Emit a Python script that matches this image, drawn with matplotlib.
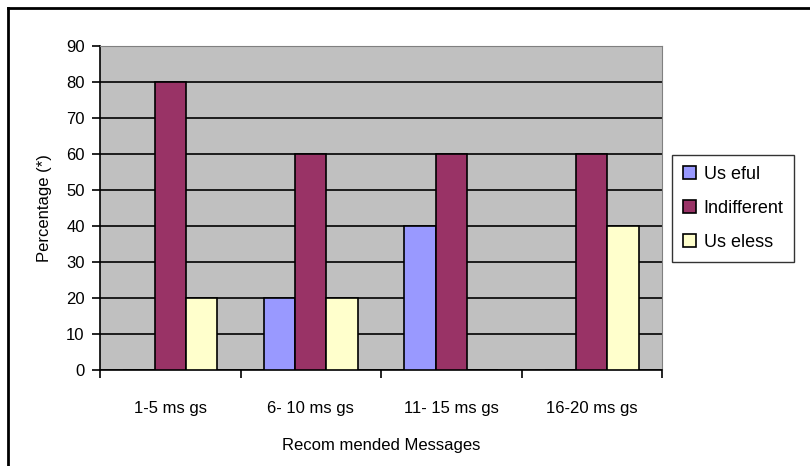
import matplotlib
matplotlib.use('Agg')
import matplotlib.pyplot as plt
import numpy as np
from matplotlib.lines import Line2D

categories = ['1-5 ms gs', '6- 10 ms gs', '11- 15 ms gs', '16-20 ms gs']
series = ['Us eful', 'Indifferent', 'Us eless']
useful = [0, 20, 40, 0]
indifferent = [80, 60, 60, 60]
useless = [20, 20, 0, 40]
colors = ['#9999FF', '#993366', '#FFFFCC']

plt.rcParams['font.family'] = ['Liberation Sans', 'DejaVu Sans']
plt.rcParams['font.size'] = 12

fig = plt.figure(figsize=(8.1, 4.66), dpi=100)
ax = fig.add_axes([100/810, 1-370/466, 562/810, 324/466])
ax.set_facecolor('#C0C0C0')

x = np.arange(len(categories))
w = 1/4.5
for i, (vals, lab, c) in enumerate(zip([useful, indifferent, useless], series, colors)):
    v = np.array(vals, dtype=float)
    ax.bar(x + (i-1)*w, v, w, color=c, edgecolor='black', linewidth=1.2,
           label=lab, zorder=3)

ax.set_xlim(-0.5, len(categories)-0.5)
ax.set_ylim(0, 90)
ax.set_yticks(range(0, 91, 10))
ax.yaxis.grid(True, color='black', linewidth=1.2, zorder=1)
ax.set_axisbelow(True)

ax.set_xticks(x)
ax.set_xticklabels(categories)
ax.set_xticks(np.arange(-0.5, len(categories), 1), minor=True)
ax.tick_params(axis='x', which='major', length=0, pad=22)
ax.tick_params(axis='x', which='minor', length=6, width=1.2, direction='out')
ax.tick_params(axis='y', length=6, width=1.2, direction='out', pad=5)

for s in ['top', 'right']:
    ax.spines[s].set_color('#808080')
for s in ['left', 'bottom']:
    ax.spines[s].set_color('black')
    ax.spines[s].set_linewidth(1.2)

ax.set_ylabel('Percentage (*)', labelpad=10)
ax.set_xlabel('Recom mended Messages', labelpad=16)

handles = [plt.Rectangle((0, 0), 1, 1, facecolor=c, edgecolor='black', linewidth=1.2)
           for c in colors]
leg = fig.legend(handles, series, loc='upper left', fontsize=13,
                 bbox_to_anchor=(672/810, 1-155/466), frameon=True,
                 fancybox=False, edgecolor='black', handlelength=0.75,
                 handleheight=0.75, handletextpad=0.4, borderpad=0.6,
                 labelspacing=0.95, borderaxespad=0)
leg.get_frame().set_linewidth(1.0)

# outer chart border (only top and left visible)
fig.add_artist(Line2D([8/810, 8/810], [0, 1-8/466], color='black', linewidth=2,
                      transform=fig.transFigure))
fig.add_artist(Line2D([8/810, 1], [1-8/466, 1-8/466], color='black', linewidth=2,
                      transform=fig.transFigure))

fig.savefig('out.png', dpi=100)
